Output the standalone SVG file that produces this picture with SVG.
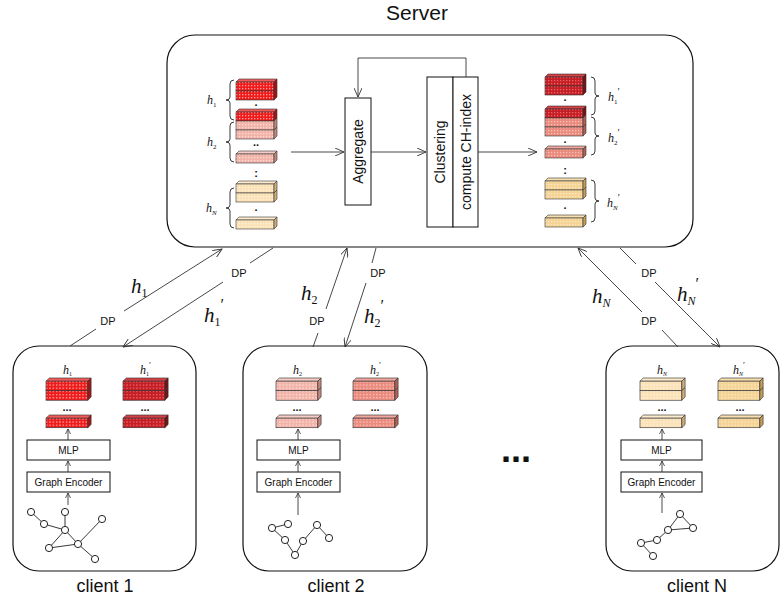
<svg xmlns="http://www.w3.org/2000/svg" xmlns:xlink="http://www.w3.org/1999/xlink" width="780" height="602" viewBox="0 0 780 602">
<style>
.box{fill:#fff;stroke:#111;stroke-width:1.2}
.rb{fill:#fff;stroke:#111;stroke-width:1}
.ln{fill:none;stroke:#333;stroke-width:0.9}
.sa{font-family:"Liberation Sans",Arial,sans-serif;fill:#111}
.dp{font-family:"Liberation Sans",Arial,sans-serif;font-size:11px;fill:#111;text-anchor:middle}
.hb{font-family:"Liberation Serif","Times New Roman",serif;font-style:italic;font-size:21px;fill:#111}
.hs{font-family:"Liberation Serif","Times New Roman",serif;font-style:italic;font-size:12px;fill:#111}
.sb{font-style:normal}
.fc{stroke:#333;stroke-width:0.6}
.nd{fill:#fff;stroke:#222;stroke-width:1}
.ed{stroke:#222;stroke-width:0.9;fill:none}
.dt{font-family:"Liberation Sans",Arial,sans-serif;font-size:11px;font-weight:bold;fill:#111;text-anchor:middle}
</style>
<defs>
<marker id="ar" markerWidth="10" markerHeight="8" refX="9" refY="4" orient="auto" markerUnits="userSpaceOnUse"><path d="M0,0 L9,4 L0,8" fill="none" stroke="#333" stroke-width="0.9"/></marker>
<marker id="as" markerWidth="6" markerHeight="6" refX="5" refY="3" orient="auto" markerUnits="userSpaceOnUse"><path d="M0,0.5 L5,3 L0,5.5" fill="none" stroke="#333" stroke-width="0.8"/></marker>
<pattern id="pR" width="3" height="3" patternUnits="userSpaceOnUse"><rect width="3" height="3" fill="#f01c1c"/><rect width="1.3" height="1.3" fill="#ff9c9c"/></pattern>
<pattern id="pP" width="3" height="3" patternUnits="userSpaceOnUse"><rect width="3" height="3" fill="#f2b3a9"/><rect width="1.3" height="1.3" fill="#fbdcd6"/></pattern>
<pattern id="pB" width="3" height="3" patternUnits="userSpaceOnUse"><rect width="3" height="3" fill="#fbe1b6"/><rect width="1.3" height="1.3" fill="#fff3de"/></pattern>
<pattern id="pD" width="3" height="3" patternUnits="userSpaceOnUse"><rect width="3" height="3" fill="#c41e26"/><rect width="1.3" height="1.3" fill="#ec6262"/></pattern>
<pattern id="pS" width="3" height="3" patternUnits="userSpaceOnUse"><rect width="3" height="3" fill="#ea8b7e"/><rect width="1.3" height="1.3" fill="#f8c0b7"/></pattern>
<pattern id="pE" width="3" height="3" patternUnits="userSpaceOnUse"><rect width="3" height="3" fill="#f5d394"/><rect width="1.3" height="1.3" fill="#fbe9c6"/></pattern>
<polygon id="tR" class="fc" points="0,3 3,0 41,0 38,3" fill="#f55a5a"/>
<g id="lR"><rect class="fc" width="38" height="9" fill="url(#pR)"/><polygon class="fc" points="38,0 41,-3 41,6 38,9" fill="#a81414"/></g>
<polygon id="tP" class="fc" points="0,3 3,0 41,0 38,3" fill="#f7cdc6"/>
<g id="lP"><rect class="fc" width="38" height="9" fill="url(#pP)"/><polygon class="fc" points="38,0 41,-3 41,6 38,9" fill="#c7877d"/></g>
<polygon id="tB" class="fc" points="0,3 3,0 41,0 38,3" fill="#fdebcc"/>
<g id="lB"><rect class="fc" width="38" height="9" fill="url(#pB)"/><polygon class="fc" points="38,0 41,-3 41,6 38,9" fill="#d2ad77"/></g>
<polygon id="tD" class="fc" points="0,3 3,0 41,0 38,3" fill="#d64046"/>
<g id="lD"><rect class="fc" width="38" height="9" fill="url(#pD)"/><polygon class="fc" points="38,0 41,-3 41,6 38,9" fill="#7a0f14"/></g>
<polygon id="tS" class="fc" points="0,3 3,0 41,0 38,3" fill="#f2a89e"/>
<g id="lS"><rect class="fc" width="38" height="9" fill="url(#pS)"/><polygon class="fc" points="38,0 41,-3 41,6 38,9" fill="#b46055"/></g>
<polygon id="tE" class="fc" points="0,3 3,0 41,0 38,3" fill="#f8dfae"/>
<g id="lE"><rect class="fc" width="38" height="9" fill="url(#pE)"/><polygon class="fc" points="38,0 41,-3 41,6 38,9" fill="#c69c56"/></g>
</defs>
<rect width="780" height="602" fill="#fff"/>

<g id="server">
<text class="sa" x="417" y="20" font-size="21" text-anchor="middle">Server</text>
<rect class="box" x="167" y="35" width="526" height="212" rx="28"/>
</g>

<g id="server-inputs">
<use xlink:href="#tR" x="236" y="79"/><use xlink:href="#lR" x="236" y="82"/><use xlink:href="#lR" x="236" y="91"/>
<text class="dt" x="256" y="106">.</text>
<use xlink:href="#tR" x="236" y="109"/><use xlink:href="#lR" x="236" y="112"/><use xlink:href="#lP" x="236" y="121"/><use xlink:href="#lP" x="236" y="130"/>
<text class="dt" x="256" y="146">..</text>
<use xlink:href="#tP" x="236" y="151"/><use xlink:href="#lP" x="236" y="154"/>
<text class="dt" x="256" y="177">:</text>
<use xlink:href="#tB" x="236" y="181"/><use xlink:href="#lB" x="236" y="184"/><use xlink:href="#lB" x="236" y="193"/>
<text class="dt" x="256" y="211">.</text>
<use xlink:href="#tB" x="236" y="217"/><use xlink:href="#lB" x="236" y="220"/>
<path class="ed" d="M234,80 Q230,80 230,84 L230,97 Q230,100 226,100 Q230,100 230,103 L230,116 Q230,120 234,120"/>
<path class="ed" d="M234,122 Q230,122 230,126 L230,139 Q230,142 226,142 Q230,142 230,145 L230,158 Q230,162 234,162"/>
<path class="ed" d="M234,188 Q230,188 230,192 L230,205 Q230,208 226,208 Q230,208 230,211 L230,224 Q230,228 234,228"/>
<text class="hs" x="207" y="104">h<tspan class="sb" font-size="7" dy="3">1</tspan></text>
<text class="hs" x="207" y="146">h<tspan class="sb" font-size="7" dy="3">2</tspan></text>
<text class="hs" x="206" y="212">h<tspan font-size="7" dy="3">N</tspan></text>
</g>

<g id="aggregate">
<rect class="rb" x="345" y="98" width="26" height="107"/>
<text class="sa" font-size="14" text-anchor="middle" transform="translate(363,151.5) rotate(-90)">Aggregate</text>
</g>
<g id="clustering">
<rect class="rb" x="427" y="77" width="26" height="150"/>
<text class="sa" font-size="14" text-anchor="middle" transform="translate(445,152) rotate(-90)">Clustering</text>
</g>
<g id="ch-index">
<rect class="rb" x="453" y="77" width="25" height="150"/>
<text class="sa" font-size="14" text-anchor="middle" transform="translate(470.5,152) rotate(-90)">compute CH-index</text>
</g>

<g id="server-outputs">
<use xlink:href="#tD" x="545" y="74"/><use xlink:href="#lD" x="545" y="77"/><use xlink:href="#lD" x="545" y="86"/>
<text class="dt" x="565" y="101">.</text>
<use xlink:href="#tD" x="545" y="106"/><use xlink:href="#lD" x="545" y="109"/><use xlink:href="#lS" x="545" y="118"/><use xlink:href="#lS" x="545" y="127"/>
<text class="dt" x="565" y="143">.</text>
<use xlink:href="#tS" x="545" y="146"/><use xlink:href="#lS" x="545" y="149"/>
<text class="dt" x="565" y="174">:</text>
<use xlink:href="#tE" x="545" y="178"/><use xlink:href="#lE" x="545" y="181"/><use xlink:href="#lE" x="545" y="190"/>
<text class="dt" x="565" y="209">.</text>
<use xlink:href="#tE" x="545" y="215"/><use xlink:href="#lE" x="545" y="218"/>
<path class="ed" d="M591,77 Q595,77 595,81 L595,93 Q595,96 599,96 Q595,96 595,99 L595,111 Q595,115 591,115"/>
<path class="ed" d="M591,117 Q595,117 595,121 L595,133 Q595,136 599,136 Q595,136 595,139 L595,151 Q595,155 591,155"/>
<path class="ed" d="M591,180 Q595,180 595,184 L595,198 Q595,201 599,201 Q595,201 595,204 L595,218 Q595,222 591,222"/>
<text class="hs" x="608" y="101">h<tspan class="sb" font-size="7" dy="3">1</tspan><tspan class="sb" font-size="10" dy="-9">′</tspan></text>
<text class="hs" x="608" y="142">h<tspan class="sb" font-size="7" dy="3">2</tspan><tspan class="sb" font-size="10" dy="-9">′</tspan></text>
<text class="hs" x="607" y="207">h<tspan font-size="7" dy="3">N</tspan><tspan class="sb" font-size="10" dy="-9">′</tspan></text>
</g>

<g id="client1">
<rect class="box" x="13" y="346" width="183" height="225" rx="26"/>
<text class="hs" x="63" y="374">h<tspan class="sb" font-size="6" dy="2">1</tspan></text>
<text class="hs" x="140" y="374">h<tspan class="sb" font-size="6" dy="2">1</tspan><tspan class="sb" font-size="9" dy="-8">′</tspan></text>
<g transform="translate(46,378) scale(1.1,1.06)"><use xlink:href="#tR"/><use xlink:href="#lR" y="3"/><use xlink:href="#lR" y="12"/></g>
<g transform="translate(46,415) scale(1.1,1.06)"><use xlink:href="#tR"/><use xlink:href="#lR" y="3"/></g>
<g transform="translate(123,378) scale(1.1,1.06)"><use xlink:href="#tD"/><use xlink:href="#lD" y="3"/><use xlink:href="#lD" y="12"/></g>
<g transform="translate(123,415) scale(1.1,1.06)"><use xlink:href="#tD"/><use xlink:href="#lD" y="3"/></g>
<text class="dt" x="67" y="411">...</text>
<text class="dt" x="145" y="411">...</text>
<rect class="rb" x="27" y="440" width="83" height="20"/>
<text class="sa" x="68.5" y="454" font-size="10" text-anchor="middle">MLP</text>
<rect class="rb" x="27" y="472" width="83" height="20"/>
<text class="sa" x="68.5" y="486" font-size="10" text-anchor="middle">Graph Encoder</text>
<line class="ln" x1="68" y1="440" x2="68" y2="429" marker-end="url(#as)"/>
<line class="ln" x1="68" y1="472" x2="68" y2="461" marker-end="url(#as)"/>
<line class="ln" x1="68" y1="505" x2="68" y2="493" marker-end="url(#as)"/>
<path class="ed" d="M31,512 L44,524 L65,530 L65,512 M65,530 L49,548 L78,544 L65,530 M78,544 L102,519 M78,544 L95,559"/>
<circle class="nd" cx="31" cy="512" r="3.6"/><circle class="nd" cx="44" cy="524" r="3.6"/><circle class="nd" cx="65" cy="512" r="3.6"/><circle class="nd" cx="65" cy="530" r="3.6"/><circle class="nd" cx="102" cy="519" r="3.6"/><circle class="nd" cx="78" cy="544" r="3.6"/><circle class="nd" cx="49" cy="548" r="3.6"/><circle class="nd" cx="95" cy="559" r="3.6"/>
<text class="sa" x="105" y="592" font-size="18" text-anchor="middle">client 1</text>
</g>

<g id="client2">
<rect class="box" x="243" y="346" width="184" height="225" rx="26"/>
<text class="hs" x="293" y="374">h<tspan class="sb" font-size="6" dy="2">2</tspan></text>
<text class="hs" x="370" y="374">h<tspan class="sb" font-size="6" dy="2">2</tspan><tspan class="sb" font-size="9" dy="-8">′</tspan></text>
<g transform="translate(276,378) scale(1.1,1.06)"><use xlink:href="#tP"/><use xlink:href="#lP" y="3"/><use xlink:href="#lP" y="12"/></g>
<g transform="translate(276,415) scale(1.1,1.06)"><use xlink:href="#tP"/><use xlink:href="#lP" y="3"/></g>
<g transform="translate(353,378) scale(1.1,1.06)"><use xlink:href="#tS"/><use xlink:href="#lS" y="3"/><use xlink:href="#lS" y="12"/></g>
<g transform="translate(353,415) scale(1.1,1.06)"><use xlink:href="#tS"/><use xlink:href="#lS" y="3"/></g>
<text class="dt" x="297" y="411">...</text>
<text class="dt" x="375" y="411">...</text>
<rect class="rb" x="257" y="440" width="83" height="20"/>
<text class="sa" x="298.5" y="454" font-size="10" text-anchor="middle">MLP</text>
<rect class="rb" x="257" y="472" width="83" height="20"/>
<text class="sa" x="298.5" y="486" font-size="10" text-anchor="middle">Graph Encoder</text>
<line class="ln" x1="298" y1="440" x2="298" y2="429" marker-end="url(#as)"/>
<line class="ln" x1="298" y1="472" x2="298" y2="461" marker-end="url(#as)"/>
<line class="ln" x1="298" y1="515" x2="298" y2="493" marker-end="url(#as)"/>
<path class="ed" d="M272,528 L288,524 M272,528 L285,540 L295,555 L303,541 L317,525 L329,538"/>
<circle class="nd" cx="272" cy="528" r="3.6"/><circle class="nd" cx="288" cy="524" r="3.6"/><circle class="nd" cx="285" cy="540" r="3.6"/><circle class="nd" cx="295" cy="555" r="3.6"/><circle class="nd" cx="303" cy="541" r="3.6"/><circle class="nd" cx="317" cy="525" r="3.6"/><circle class="nd" cx="329" cy="538" r="3.6"/>
<text class="sa" x="336" y="592" font-size="18" text-anchor="middle">client 2</text>
</g>

<g id="clientN">
<rect class="box" x="606" y="346" width="173" height="225" rx="26"/>
<text class="hs" x="657" y="374">h<tspan font-size="6" dy="2">N</tspan></text>
<text class="hs" x="733" y="374">h<tspan font-size="6" dy="2">N</tspan><tspan class="sb" font-size="9" dy="-8">′</tspan></text>
<g transform="translate(640,378) scale(1.1,1.06)"><use xlink:href="#tB"/><use xlink:href="#lB" y="3"/><use xlink:href="#lB" y="12"/></g>
<g transform="translate(640,415) scale(1.1,1.06)"><use xlink:href="#tB"/><use xlink:href="#lB" y="3"/></g>
<g transform="translate(718,378) scale(1.1,1.06)"><use xlink:href="#tE"/><use xlink:href="#lE" y="3"/><use xlink:href="#lE" y="12"/></g>
<g transform="translate(718,415) scale(1.1,1.06)"><use xlink:href="#tE"/><use xlink:href="#lE" y="3"/></g>
<text class="dt" x="662" y="411">...</text>
<text class="dt" x="740" y="411">...</text>
<rect class="rb" x="621" y="440" width="81" height="20"/>
<text class="sa" x="661.5" y="454" font-size="10" text-anchor="middle">MLP</text>
<rect class="rb" x="621" y="472" width="81" height="20"/>
<text class="sa" x="661.5" y="486" font-size="10" text-anchor="middle">Graph Encoder</text>
<line class="ln" x1="662" y1="440" x2="662" y2="429" marker-end="url(#as)"/>
<line class="ln" x1="662" y1="472" x2="662" y2="461" marker-end="url(#as)"/>
<line class="ln" x1="662" y1="513" x2="662" y2="493" marker-end="url(#as)"/>
<path class="ed" d="M680,514 L693,528 L668,530 L680,514 M668,530 L657,540 L641,543 L653,556"/>
<circle class="nd" cx="680" cy="514" r="3.6"/><circle class="nd" cx="693" cy="528" r="3.6"/><circle class="nd" cx="668" cy="530" r="3.6"/><circle class="nd" cx="657" cy="540" r="3.6"/><circle class="nd" cx="641" cy="543" r="3.6"/><circle class="nd" cx="653" cy="556" r="3.6"/>
<text class="sa" x="697" y="592" font-size="18" text-anchor="middle">client N</text>
</g>

<text class="sa" x="516" y="462" font-size="36" font-weight="bold" text-anchor="middle">...</text>

<g id="connectors">
<line class="ln" x1="291" y1="152" x2="344" y2="152" marker-end="url(#ar)"/>
<line class="ln" x1="371" y1="152" x2="426" y2="152" marker-end="url(#ar)"/>
<line class="ln" x1="478" y1="152" x2="537" y2="152" marker-end="url(#ar)"/>
<polyline class="ln" points="466,77 466,58 358,58 358,97" marker-end="url(#ar)"/>

<line class="ln" x1="70" y1="346" x2="96" y2="329"/>
<line class="ln" x1="124" y1="311" x2="222" y2="249" marker-end="url(#ar)"/>
<text class="dp" x="108" y="325">DP</text>
<text class="hb" x="131" y="293">h<tspan class="sb" font-size="12" dy="4">1</tspan></text>

<line class="ln" x1="273" y1="248" x2="250" y2="263"/>
<line class="ln" x1="223" y1="282" x2="123" y2="347" marker-end="url(#ar)"/>
<text class="dp" x="239" y="277">DP</text>
<text class="hb" x="204" y="322">h<tspan class="sb" font-size="12" dy="4">1</tspan><tspan class="sb" font-size="16" dy="-16">′</tspan></text>

<line class="ln" x1="313" y1="347" x2="318" y2="333"/>
<line class="ln" x1="326" y1="309" x2="347" y2="248" marker-end="url(#ar)"/>
<text class="dp" x="317" y="325">DP</text>
<text class="hb" x="301" y="300">h<tspan class="sb" font-size="12" dy="4">2</tspan></text>

<line class="ln" x1="376" y1="248" x2="372" y2="263"/>
<line class="ln" x1="366" y1="283" x2="345" y2="347" marker-end="url(#ar)"/>
<text class="dp" x="378" y="277">DP</text>
<text class="hb" x="364" y="323">h<tspan class="sb" font-size="12" dy="4">2</tspan><tspan class="sb" font-size="16" dy="-16">′</tspan></text>

<line class="ln" x1="678" y1="347" x2="662" y2="330"/>
<line class="ln" x1="642" y1="312" x2="578" y2="248" marker-end="url(#ar)"/>
<text class="dp" x="649" y="325">DP</text>
<text class="hb" x="592" y="303">h<tspan font-size="12" dy="4">N</tspan></text>

<line class="ln" x1="620" y1="248" x2="636" y2="264"/>
<line class="ln" x1="655" y1="282" x2="720" y2="347" marker-end="url(#ar)"/>
<text class="dp" x="649" y="277">DP</text>
<text class="hb" x="677" y="301">h<tspan font-size="12" dy="4">N</tspan><tspan class="sb" font-size="16" dy="-16">′</tspan></text>
</g>
</svg>
